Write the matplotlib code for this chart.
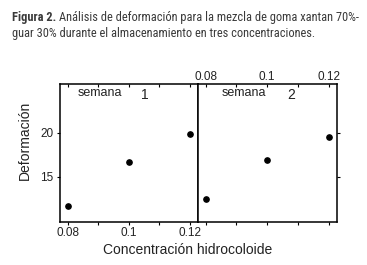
import matplotlib
matplotlib.use("Agg")
import matplotlib.pyplot as plt
from matplotlib import font_manager
from matplotlib.font_manager import FontProperties

conc = [0.08, 0.10, 0.12]
week1 = [11.7, 16.7, 19.85]
week2 = [12.5, 16.87, 19.55]
week_labels = ["1", "2"]
xticks_major = [0.08, 0.10, 0.12]
xtick_labels = ["0.08", "0.1", "0.12"]
xticks_minor = [0.09, 0.11]
yticks = [15, 20]
ytick_labels = ["15", "20"]

plt.rcParams['font.family'] = ['Liberation Sans', 'DejaVu Sans']

# find a condensed font for the caption
def find_condensed(bold):
    cands = []
    for f in font_manager.fontManager.ttflist:
        fn = f.fname.lower()
        if ('narrow' in fn or 'condensed' in fn) and 'oblique' not in fn and 'italic' not in fn:
            isbold = 'bold' in fn
            if isbold == bold:
                pri = 0 if 'liberation' in fn else (1 if 'roboto' in fn else 2)
                cands.append((pri, f.fname))
    cands.sort()
    return cands[0][1] if cands else None

reg = find_condensed(False)
bld = find_condensed(True)

W, H = 367, 265
fig = plt.figure(figsize=(W / 100, H / 100), dpi=100)

def fx(px):
    return px / W

def fy(py):
    return 1 - py / H

left, mid, right = 60, 198, 337
top, bottom = 84, 222
ax1 = fig.add_axes([fx(left), fy(bottom), fx(mid - left), fy(top) - fy(bottom)])
ax2 = fig.add_axes([fx(mid), fy(bottom), fx(right - mid), fy(top) - fy(bottom)])

xlim = (0.0775, 0.1227)
ylim = (9.9, 25.5)
tcol = "#222222"
for ax, vals in [(ax1, week1), (ax2, week2)]:
    ax.plot(conc, vals, 'o', color='black', ms=3.8, mec='black')
    ax.set_xlim(*xlim)
    ax.set_ylim(*ylim)
    for s in ax.spines.values():
        s.set_linewidth(1.1)
        s.set_color('black')
    ax.set_xticks(xticks_major)
    ax.set_xticks(xticks_minor, minor=True)
    ax.set_yticks(yticks)
    ax.tick_params(axis='x', which='both', direction='out', length=2.5, width=0.8,
                   top=True, bottom=True, labelsize=8.5, pad=1.0, colors='black', labelcolor=tcol)
    ax.tick_params(axis='y', direction='out', length=2.5, width=0.8, labelsize=8.5,
                   pad=2.0, colors='black', labelcolor=tcol)

ax1.set_xticklabels(xtick_labels)
ax1.tick_params(axis='x', which='both', labeltop=False, labelbottom=True)
ax1.tick_params(axis='y', left=True, right=False, labelleft=True)
ax1.set_yticklabels(ytick_labels)

ax2.set_xticklabels(xtick_labels)
ax2.tick_params(axis='x', which='both', labeltop=True, labelbottom=False, pad=-1.5)
ax2.tick_params(axis='y', left=False, right=True, labelleft=False, labelright=False)

# top ticks inward
for ax in (ax1, ax2):
    for t in ax.xaxis.get_major_ticks() + ax.xaxis.get_minor_ticks():
        t.tick2line.set_marker(3)
        t.tick2line.set_markersize(2.5)

def rel(px, py, ax_left, ax_right):
    return (px - ax_left) / (ax_right - ax_left), 1 - (py - top) / (bottom - top)

ax1.text(*rel(100, 93, left, mid), "semana", transform=ax1.transAxes,
         ha='center', va='center', fontsize=9, color=tcol)
ax1.text(*rel(145, 95, left, mid), week_labels[0], transform=ax1.transAxes,
         ha='center', va='center', fontsize=10, color=tcol)
ax2.text(*rel(244, 93, mid, right), "semana", transform=ax2.transAxes,
         ha='center', va='center', fontsize=9, color=tcol)
ax2.text(*rel(291, 95, mid, right), week_labels[1], transform=ax2.transAxes,
         ha='center', va='center', fontsize=10, color=tcol)

fig.text(fx(25), fy(140), "Deformación", rotation=90, ha='center', va='center',
         fontsize=10, color=tcol)
fig.text(fx(188), fy(250), "Concentración hidrocoloide", ha='center', va='center',
         fontsize=10, color=tcol)

# caption
ccol = "#3a3a3a"
def fp(bold, size):
    f = bld if bold else reg
    if f:
        return FontProperties(fname=f, size=size)
    return FontProperties(family=['Liberation Sans', 'DejaVu Sans'], size=size,
                          weight='bold' if bold else 'normal')

line1a = "Figura 2."
line1b = "Análisis de deformación para la mezcla de goma xantan 70%-"
line2 = "guar 30% durante el almacenamiento en tres concentraciones."

r = fig.canvas.get_renderer()
size = 9.0
target = 357 - 12
for _ in range(6):
    ta = fig.text(fx(12), fy(17), line1a, ha='left', va='center', fontproperties=fp(True, size), color=ccol)
    tb = fig.text(0, fy(17), line1b, ha='left', va='center', fontproperties=fp(False, size), color=ccol)
    wa = ta.get_window_extent(renderer=r).width
    wb = tb.get_window_extent(renderer=r).width
    total = wa + 3 + wb
    ta.remove(); tb.remove()
    if abs(total - target) < 2:
        break
    size = size * target / total

ta = fig.text(fx(12), fy(17), line1a, ha='left', va='center', fontproperties=fp(True, size), color=ccol)
wa = ta.get_window_extent(renderer=r).width
fig.text(fx(12 + wa + 3), fy(17), line1b, ha='left', va='center',
         fontproperties=fp(False, size), color=ccol)
fig.text(fx(12), fy(33), line2, ha='left', va='center',
         fontproperties=fp(False, size), color=ccol)

fig.savefig("out.png", dpi=100)
